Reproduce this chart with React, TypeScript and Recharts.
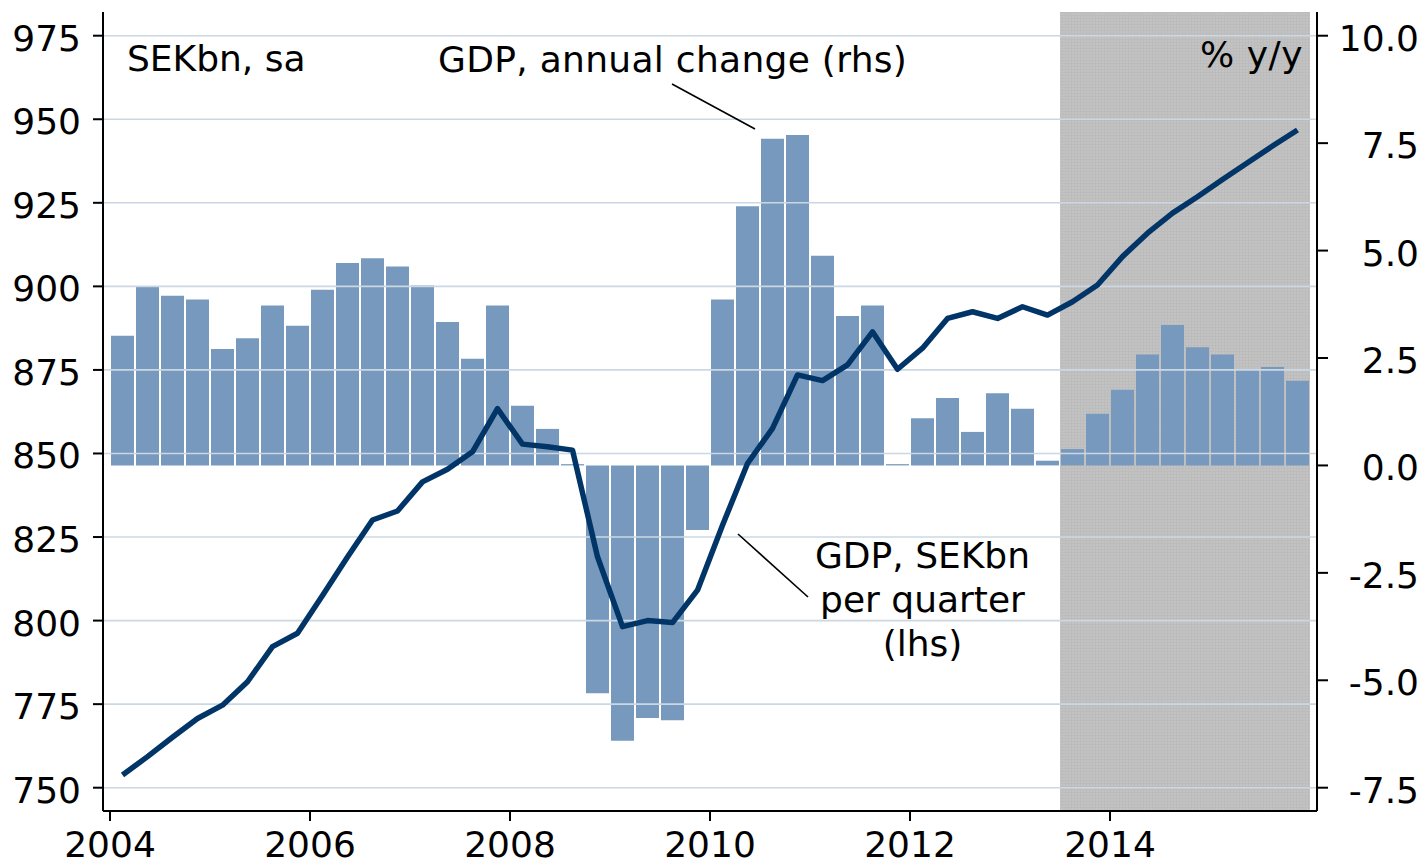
import React from 'react';
import { ComposedChart, Bar, Line, XAxis, YAxis, ReferenceArea, ReferenceLine } from 'recharts';

// Quarterly categories
const quarters = [
  '2004Q1', '2004Q2', '2004Q3', '2004Q4',
  '2005Q1', '2005Q2', '2005Q3', '2005Q4',
  '2006Q1', '2006Q2', '2006Q3', '2006Q4',
  '2007Q1', '2007Q2', '2007Q3', '2007Q4',
  '2008Q1', '2008Q2', '2008Q3', '2008Q4',
  '2009Q1', '2009Q2', '2009Q3', '2009Q4',
  '2010Q1', '2010Q2', '2010Q3', '2010Q4',
  '2011Q1', '2011Q2', '2011Q3', '2011Q4',
  '2012Q1', '2012Q2', '2012Q3', '2012Q4',
  '2013Q1', '2013Q2', '2013Q3', '2013Q4',
  '2014Q1', '2014Q2', '2014Q3', '2014Q4',
  '2015Q1', '2015Q2', '2015Q3', '2015Q4',
];

// GDP, SEKbn per quarter (lhs)
const gdpLevel = [
  753.8, 759.3, 765.1, 770.7,
  774.7, 781.7, 792.2, 796.2,
  807.5, 819.0, 830.1, 832.8,
  841.5, 845.3, 850.5, 863.4,
  852.8, 852.0, 851.0, 819.1,
  798.2, 800.0, 799.4, 809.1,
  828.5, 847.0, 857.5, 873.5,
  871.8, 876.5, 886.4, 875.2,
  881.5, 890.4, 892.4, 890.4,
  893.9, 891.4, 895.4, 900.4,
  908.9, 915.9, 921.9, 926.8,
  932.0, 937.0, 942.0, 946.8,
];

// GDP, annual change % y/y (rhs)
const gdpGrowth = [
  3.02, 4.17, 3.95, 3.86,
  2.71, 2.96, 3.72, 3.25,
  4.09, 4.71, 4.82, 4.63,
  4.19, 3.34, 2.48, 3.72,
  1.39, 0.85, 0.03, -5.30,
  -6.41, -5.88, -5.93, -1.50,
  3.86, 6.03, 7.60, 7.69,
  4.88, 3.48, 3.72, 0.03,
  1.10, 1.57, 0.78, 1.68,
  1.32, 0.11, 0.38, 1.20,
  1.76, 2.58, 3.27, 2.75,
  2.58, 2.23, 2.29, 1.97,
];

const leftTicks = [750, 775, 800, 825, 850, 875, 900, 925, 950, 975];
const rightTicks = [-7.5, -5.0, -2.5, 0.0, 2.5, 5.0, 7.5, 10.0];
const xTicks = [2004, 2006, 2008, 2010, 2012, 2014];

const xDomain = [2003.93, 2016.07];
const leftDomain = [743.03, 982.09];
const rightDomain = [-8.042, 10.552];

const forecastStart = 2013.5;
const forecastEnd = 2016.0;

// quarter label -> mid-quarter position in years
const quarterToX = (q: string) => {
  const year = parseInt(q.slice(0, 4), 10);
  const qn = parseInt(q.slice(5), 10);
  return year + (qn - 0.5) / 4;
};

const data = quarters.map((q, i) => ({
  q,
  x: quarterToX(q),
  level: gdpLevel[i],
  growth: gdpGrowth[i],
}));

const FONT = 'DejaVu Sans, Verdana, sans-serif';
const FS = 36;
const GRID = '#cbd8e3';
const BAR = '#7799bd';
const LINE = '#023567';

const LeftTick = (props: any) => {
  const { x, y, payload } = props;
  return (
    <text x={x} y={y + 15} textAnchor="end" fontSize={FS} fontFamily={FONT} fill="#000">
      {payload.value}
    </text>
  );
};

const RightTick = (props: any) => {
  const { x, y, payload } = props;
  return (
    <text x={x + 89} y={y + 15} textAnchor="end" fontSize={FS} fontFamily={FONT} fill="#000">
      {Number(payload.value).toFixed(1)}
    </text>
  );
};

const BottomTick = (props: any) => {
  const { x, y, payload } = props;
  return (
    <text x={x} y={y + 34} textAnchor="middle" fontSize={FS} fontFamily={FONT} fill="#000">
      {payload.value}
    </text>
  );
};

export default function App() {
  return (
    <div style={{ position: 'absolute', left: 0, top: 0, width: 1423, height: 861, background: '#fff' }}>
      <svg width={0} height={0} style={{ position: 'absolute' }}>
        <defs>
          <pattern id="fcPattern" width={3} height={3} patternUnits="userSpaceOnUse">
            <rect width={3} height={3} fill="#c3c3c3" />
            <rect width={3} height={1} fill="#bcbcbc" />
            <rect width={1} height={3} fill="#bcbcbc" />
          </pattern>
        </defs>
      </svg>
      <ComposedChart
        width={1423}
        height={861}
        data={data}
        margin={{ top: 12, right: 0, bottom: 0, left: 0 }}
      >
        <XAxis
          dataKey="x"
          type="number"
          domain={xDomain}
          ticks={xTicks}
          interval={0}
          allowDataOverflow
          height={50}
          tickSize={10}
          tickMargin={2}
          axisLine={{ stroke: '#000', strokeWidth: 2 }}
          tickLine={{ stroke: '#000', strokeWidth: 2 }}
          tick={<BottomTick />}
        />
        <YAxis
          yAxisId="left"
          orientation="left"
          type="number"
          width={103}
          domain={leftDomain}
          ticks={leftTicks}
          interval={0}
          allowDataOverflow
          tickSize={10}
          tickMargin={12}
          axisLine={{ stroke: '#000', strokeWidth: 2 }}
          tickLine={{ stroke: '#000', strokeWidth: 2 }}
          tick={<LeftTick />}
        />
        <YAxis
          yAxisId="right"
          orientation="right"
          type="number"
          width={106}
          domain={rightDomain}
          ticks={rightTicks}
          interval={0}
          allowDataOverflow
          tickSize={11}
          tickMargin={2}
          axisLine={{ stroke: '#000', strokeWidth: 2 }}
          tickLine={{ stroke: '#000', strokeWidth: 2 }}
          tick={<RightTick />}
        />
        <ReferenceArea
          yAxisId="left"
          x1={forecastStart}
          x2={forecastEnd}
          fill="url(#fcPattern)"
          fillOpacity={1}
          stroke="none"
          ifOverflow="hidden"
        />
        <Bar
          yAxisId="right"
          dataKey="growth"
          fill={BAR}
          barSize={23}
          isAnimationActive={false}
        />
        {leftTicks.map((v) => (
          <ReferenceLine key={v} yAxisId="left" y={v} stroke={GRID} strokeWidth={1.6} />
        ))}
        <Line
          yAxisId="left"
          dataKey="level"
          type="linear"
          stroke={LINE}
          strokeWidth={5.5}
          strokeLinejoin="round"
          dot={false}
          activeDot={false}
          isAnimationActive={false}
        />
      </ComposedChart>
      <svg
        width={1423}
        height={861}
        style={{ position: 'absolute', left: 0, top: 0, pointerEvents: 'none' }}
      >
        <g fontFamily={FONT} fontSize={FS} fill="#000">
          <text x={127} y={71}>SEKbn, sa</text>
          <text x={438} y={72} letterSpacing={0.3}>GDP, annual change (rhs)</text>
          <text x={1303} y={67} textAnchor="end" letterSpacing={0.5}>% y/y</text>
          <text x={922.5} y={568} textAnchor="middle">GDP, SEKbn</text>
          <text x={922.5} y={612} textAnchor="middle">per quarter</text>
          <text x={922.5} y={656} textAnchor="middle">(lhs)</text>
        </g>
        <line x1={672} y1={84} x2={755} y2={129} stroke="#000" strokeWidth={1.6} />
        <line x1={738} y1={534} x2={808} y2={597} stroke="#000" strokeWidth={1.6} />
      </svg>
    </div>
  );
}
